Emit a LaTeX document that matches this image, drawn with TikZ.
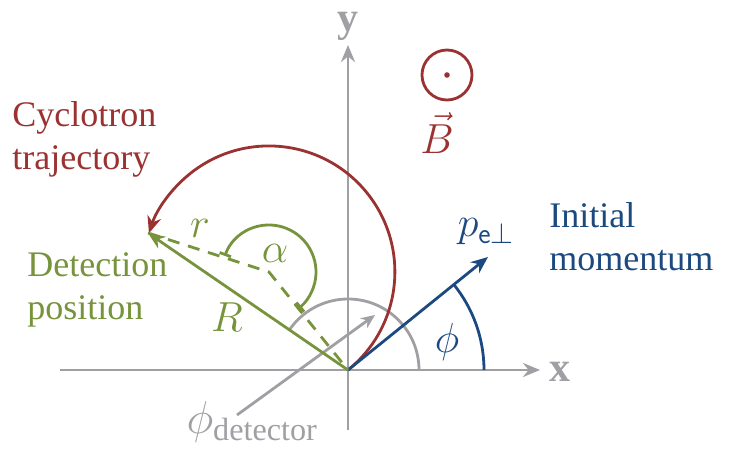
\documentclass[tikz,border=0pt]{standalone}
\usepackage{fix-cm}
\usepackage{fontspec}
\setmainfont{Liberation Serif}
\usetikzlibrary{arrows.meta}
\definecolor{cycred}{RGB}{155,50,50}
\definecolor{detgreen}{RGB}{119,147,60}
\definecolor{momblue}{RGB}{28,74,128}
\definecolor{axgrey}{RGB}{160,160,164}
\tikzset{
  txt/.style={font=\fontsize{36}{43}\selectfont,align=left,inner sep=0pt,anchor=west},
  lbl/.style={font=\fontsize{42}{48}\selectfont,inner sep=0pt},
  axlbl/.style={font=\fontsize{42}{48}\selectfont\bfseries,text=axgrey,inner sep=0pt},
}
\begin{document}
\begin{tikzpicture}[x=1pt,y=1pt,line join=round,line width=2.8pt,>={Stealth[length=17pt,width=14pt]}]
  \useasboundingbox (-348,-80) rectangle (387,370);
  \def\myrcyc{126}\def\myralpha{47}\def\myrdet{71}\def\myrphi{136}
  \coordinate (O) at (0,0);
  \coordinate (C) at (-79,98);
  \coordinate (D) at (-200,137);
  \coordinate (P) at (140,113);
  \coordinate (xbeg) at (-288,0);\coordinate (xend) at (192,0);
  \coordinate (ybeg) at (0,-60);\coordinate (yend) at (0,325);
  % axes
  \draw[axgrey,->] (xbeg)--(xend);
  \draw[axgrey,->] (ybeg)--(yend);
  \node[axlbl] (xlbl) at (212,-2) {x};
  \node[axlbl] (ylbl) at (0,344) {y};
  % angles
  \draw[axgrey] (\myrdet,0) arc[start angle=0,end angle=146,radius=\myrdet];
  \draw[momblue] (\myrphi,0) arc[start angle=0,end angle=39,radius=\myrphi];
  \node[lbl,text=momblue] (phi) at (99,28) {$\phi$};
  \node[lbl,text=axgrey,font=\fontsize{46}{52}\selectfont] (phidet) at (-96,-52) {$\phi_{\mathrm{detector}}$};
  \coordinate (detfrom) at (-111,-45);\coordinate (detto) at (27,55);
  \draw[axgrey,->,>={Stealth[length=14pt,width=12pt]}] (detfrom)--(detto);
  % trajectory
  \draw[cycred,->] (O) arc[start angle=-51.1,end angle=162.1,radius=\myrcyc];
  \draw[momblue,->] (O)--(P);
  \node[lbl,text=momblue] (pe) at (138,138) {$p_{\mathsf{e}\perp}$};
  \draw[detgreen,->] (O)--(D);
  \draw[detgreen,dash pattern=on 12pt off 9pt] (D)--(C)--(O);
  \draw[detgreen,{Bar[width=12pt]}-{Bar[width=12pt]}] ([shift={(160:\myralpha)}]C) arc[start angle=160,end angle=-50,radius=\myralpha];
  \node[lbl,text=detgreen] (alpha) at (-73,117) {$\alpha$};
  \node[lbl,text=detgreen] (rlbl) at (-148,142) {$r$};
  \node[lbl,text=detgreen] (Rlbl) at (-121,53) {$R$};
  % field
  \node[draw=cycred,circle,minimum size=50pt,inner sep=0pt] (Bsym) at (99,295) {};
  \fill[cycred] (Bsym.center) circle[radius=2.8];
  \node[lbl,text=cycred] (Blbl) at (89,237) {$\vec{B}$};
  % texts
  \node[txt,text=cycred] (cyc) at (-337,231) {Cyclotron\\trajectory};
  \node[txt,text=detgreen] (det) at (-322,80) {Detection\\position};
  \node[txt,text=momblue] (mom) at (200,133) {Initial\\momentum};
\end{tikzpicture}
\end{document}
